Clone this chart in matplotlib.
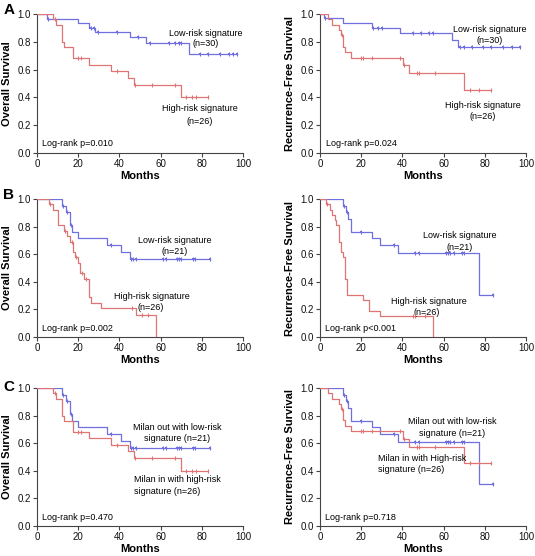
import matplotlib
matplotlib.use("Agg")
import matplotlib.pyplot as plt
import numpy as np

plt.rcParams['font.family'] = ['Liberation Sans', 'DejaVu Sans']

# ---------------- data ----------------
# Cohort A, overall survival
os_low_A_t = [5, 20, 25, 28, 45, 53, 74]
os_low_A_s = [0.967, 0.935, 0.902, 0.869, 0.833, 0.790, 0.710]
os_low_A_c = [5.5, 26, 27.5, 29.5, 39, 49, 55, 64, 67, 69, 70, 79, 83, 89, 93, 95, 97]

os_high_A_t = [8, 9, 12, 13, 17.5, 25, 36, 44, 47, 70]
os_high_A_s = [0.962, 0.923, 0.800, 0.760, 0.680, 0.636, 0.590, 0.540, 0.490, 0.400]
os_high_A_c = [8.5, 20, 21.2, 39, 47.5, 56, 67, 72.5, 75, 77, 83]

# Cohort A, recurrence-free survival
rfs_low_A_t = [2, 11, 25, 39, 64, 67]
rfs_low_A_s = [0.970, 0.933, 0.900, 0.866, 0.815, 0.765]
rfs_low_A_c = [2.5, 25.5, 28, 30, 45, 49, 53, 55, 68, 70, 74, 79, 83, 89, 93, 97]

rfs_high_A_t = [4, 6, 9, 10, 11, 12, 15, 40.5, 43, 70]
rfs_high_A_s = [0.962, 0.923, 0.885, 0.846, 0.765, 0.724, 0.686, 0.633, 0.573, 0.455]
rfs_high_A_c = [10.5, 20, 21, 25, 39, 41, 47, 48, 56, 73, 77, 83]

# Cohort B, overall survival
os_low_B_t = [12, 14, 16, 17, 20, 34, 41, 45]
os_low_B_s = [0.952, 0.905, 0.810, 0.762, 0.714, 0.667, 0.619, 0.565]
os_low_B_c = [12.5, 14.5, 16.5, 36, 45.5, 46.5, 48, 61, 62.5, 68, 69, 70, 75.5, 76.5, 84]

os_high_B_t = [6, 8, 10, 13, 14.5, 16, 17.5, 18.5, 20, 21, 23, 25, 26, 31, 48, 58]
os_high_B_s = [0.962, 0.923, 0.808, 0.769, 0.731, 0.692, 0.615, 0.577, 0.538,
               0.462, 0.423, 0.290, 0.250, 0.210, 0.160, 0.0]
os_high_B_c = [6.5, 13.5, 17, 19, 22, 24, 46, 51, 54]

# Cohort B, recurrence-free survival
rfs_low_B_t = [11, 12.5, 13.5, 15, 25, 29, 38, 77]
rfs_low_B_s = [0.952, 0.905, 0.857, 0.762, 0.714, 0.667, 0.610, 0.305]
rfs_low_B_c = [11.5, 13, 20, 36, 46, 48, 61, 62, 63, 65, 69, 70, 84]

rfs_high_B_t = [3, 5, 6, 7.5, 8, 9, 10, 11, 12, 13, 21, 24, 29, 55]
rfs_high_B_s = [0.962, 0.923, 0.885, 0.846, 0.808, 0.690, 0.615, 0.577, 0.420,
                0.307, 0.270, 0.190, 0.152, 0.0]
rfs_high_B_c = [3.5, 45, 46, 51]

xticks = [0, 20, 40, 60, 80, 100]
yticks = [0.0, 0.2, 0.4, 0.6, 0.8, 1.0]

BLUE = '#6f6fe0'
RED = '#df7474'

fig = plt.figure(figsize=(5.35, 5.56), dpi=100)
W, H = 535.0, 556.0


def make_ax(l, r, t, b):
    return fig.add_axes([l / W, 1 - b / H, (r - l) / W, (b - t) / H])


def km(ax, times, surv, cens, color, blue=False):
    end = max([times[-1]] + list(cens))
    if surv[-1] == 0.0:
        end = times[-1]
    xs = [0] + list(times) + [end]
    ys = [1.0] + list(surv) + [surv[-1]]
    ax.step(xs, ys, where='post', color=color, lw=0.9, zorder=3)
    cy = []
    for c in cens:
        s = 1.0
        for t, v in zip(times, surv):
            if t <= c:
                s = v
        cy.append(s)
    ax.plot(cens, cy, ls='none', marker='|', ms=3.5, mew=0.8, color=color, zorder=4)
    if blue:
        ax.plot(cens, cy, ls='none', marker='s', ms=1.6, mew=0, color=color, zorder=4)


def style(ax, ylabel):
    ax.set_xlim(0, 100)
    ax.set_ylim(0, 1.0)
    ax.set_xticks(xticks)
    ax.set_yticks(yticks)
    ax.set_yticklabels([f"{v:.1f}" for v in yticks])
    for s in ['top', 'right']:
        ax.spines[s].set_visible(False)
    for s in ['left', 'bottom']:
        ax.spines[s].set_color('#444444')
        ax.spines[s].set_linewidth(0.8)
    ax.tick_params(length=3, width=0.8, color='#444444', labelsize=7, pad=1.5, labelcolor='#111111')
    ax.text(0.5, -0.165, 'Months', transform=ax.transAxes, ha='center', va='center',
            fontsize=8, fontweight='bold')
    ax.text(-0.148 if ylabel.startswith('O') else -0.145, 0.5, ylabel, transform=ax.transAxes,
            rotation=90, ha='center', va='center', fontsize=8, fontweight='bold')


FS = 6.5
LX, RX = (37, 243), (320, 526)
rows = [(14, 153), (199, 337), (388, 526)]

# Row A
ax = make_ax(LX[0], LX[1], *rows[0])
km(ax, os_low_A_t, os_low_A_s, os_low_A_c, BLUE, True)
km(ax, os_high_A_t, os_high_A_s, os_high_A_c, RED)
style(ax, 'Overall Survival')
ax.text(82, 0.863, 'Low-risk signature', ha='center', va='center', fontsize=FS)
ax.text(82, 0.79, '(n=30)', ha='center', va='center', fontsize=FS)
ax.text(79, 0.317, 'High-risk signature', ha='center', va='center', fontsize=FS)
ax.text(79, 0.23, '(n=26)', ha='center', va='center', fontsize=FS)
ax.text(2.2, 0.065, 'Log-rank p=0.010', ha='left', va='center', fontsize=FS)

ax = make_ax(RX[0], RX[1], *rows[0])
km(ax, rfs_low_A_t, rfs_low_A_s, rfs_low_A_c, BLUE, True)
km(ax, rfs_high_A_t, rfs_high_A_s, rfs_high_A_c, RED)
style(ax, 'Recurrence-Free Survival')
ax.text(82.5, 0.89, 'Low-risk signature', ha='center', va='center', fontsize=FS)
ax.text(82.5, 0.81, '(n=30)', ha='center', va='center', fontsize=FS)
ax.text(79, 0.34, 'High-risk signature', ha='center', va='center', fontsize=FS)
ax.text(79, 0.26, '(n=26)', ha='center', va='center', fontsize=FS)
ax.text(3, 0.065, 'Log-rank p=0.024', ha='left', va='center', fontsize=FS)

# Row B
ax = make_ax(LX[0], LX[1], *rows[1])
km(ax, os_low_B_t, os_low_B_s, os_low_B_c, BLUE, True)
km(ax, os_high_B_t, os_high_B_s, os_high_B_c, RED)
style(ax, 'Overall Survival')
ax.text(67, 0.70, 'Low-risk signature', ha='center', va='center', fontsize=FS)
ax.text(67, 0.62, '(n=21)', ha='center', va='center', fontsize=FS)
ax.text(56, 0.293, 'High-risk signature', ha='center', va='center', fontsize=FS)
ax.text(55, 0.213, '(n=26)', ha='center', va='center', fontsize=FS)
ax.text(2.2, 0.058, 'Log-rank p=0.002', ha='left', va='center', fontsize=FS)

ax = make_ax(RX[0], RX[1], *rows[1])
km(ax, rfs_low_B_t, rfs_low_B_s, rfs_low_B_c, BLUE, True)
km(ax, rfs_high_B_t, rfs_high_B_s, rfs_high_B_c, RED)
style(ax, 'Recurrence-Free Survival')
ax.text(68, 0.734, 'Low-risk signature', ha='center', va='center', fontsize=FS)
ax.text(68, 0.65, '(n=21)', ha='center', va='center', fontsize=FS)
ax.text(53, 0.258, 'High-risk signature', ha='center', va='center', fontsize=FS)
ax.text(52, 0.174, '(n=26)', ha='center', va='center', fontsize=FS)
ax.text(2.4, 0.06, 'Log-rank p<0.001', ha='left', va='center', fontsize=FS)

# Row C
ax = make_ax(LX[0], LX[1], *rows[2])
km(ax, os_low_B_t, os_low_B_s, os_low_B_c, BLUE, True)
km(ax, os_high_A_t, os_high_A_s, os_high_A_c, RED)
style(ax, 'Overall Survival')
ax.text(68, 0.714, 'Milan out with low-risk', ha='center', va='center', fontsize=FS)
ax.text(68, 0.635, 'signature (n=21)', ha='center', va='center', fontsize=FS)
ax.text(47, 0.334, 'Milan in with high-risk', ha='left', va='center', fontsize=FS)
ax.text(47, 0.25, 'signature (n=26)', ha='left', va='center', fontsize=FS)
ax.text(2.2, 0.058, 'Log-rank p=0.470', ha='left', va='center', fontsize=FS)

ax = make_ax(RX[0], RX[1], *rows[2])
km(ax, rfs_low_B_t, rfs_low_B_s, rfs_low_B_c, BLUE, True)
km(ax, rfs_high_A_t, rfs_high_A_s, rfs_high_A_c, RED)
style(ax, 'Recurrence-Free Survival')
ax.text(64, 0.755, 'Milan out with low-risk', ha='center', va='center', fontsize=FS)
ax.text(64, 0.67, 'signature (n=21)', ha='center', va='center', fontsize=FS)
ax.text(28, 0.49, 'Milan in with High-risk', ha='left', va='center', fontsize=FS)
ax.text(28, 0.406, 'signature (n=26)', ha='left', va='center', fontsize=FS)
ax.text(2.4, 0.058, 'Log-rank p=0.718', ha='left', va='center', fontsize=FS)

# Panel letters
for letter, yy in [('A', 10), ('B', 195), ('C', 387)]:
    fig.text(9 / W, 1 - yy / H, letter, ha='center', va='center', fontsize=11, fontweight='bold')

fig.savefig('out.png', dpi=100)
